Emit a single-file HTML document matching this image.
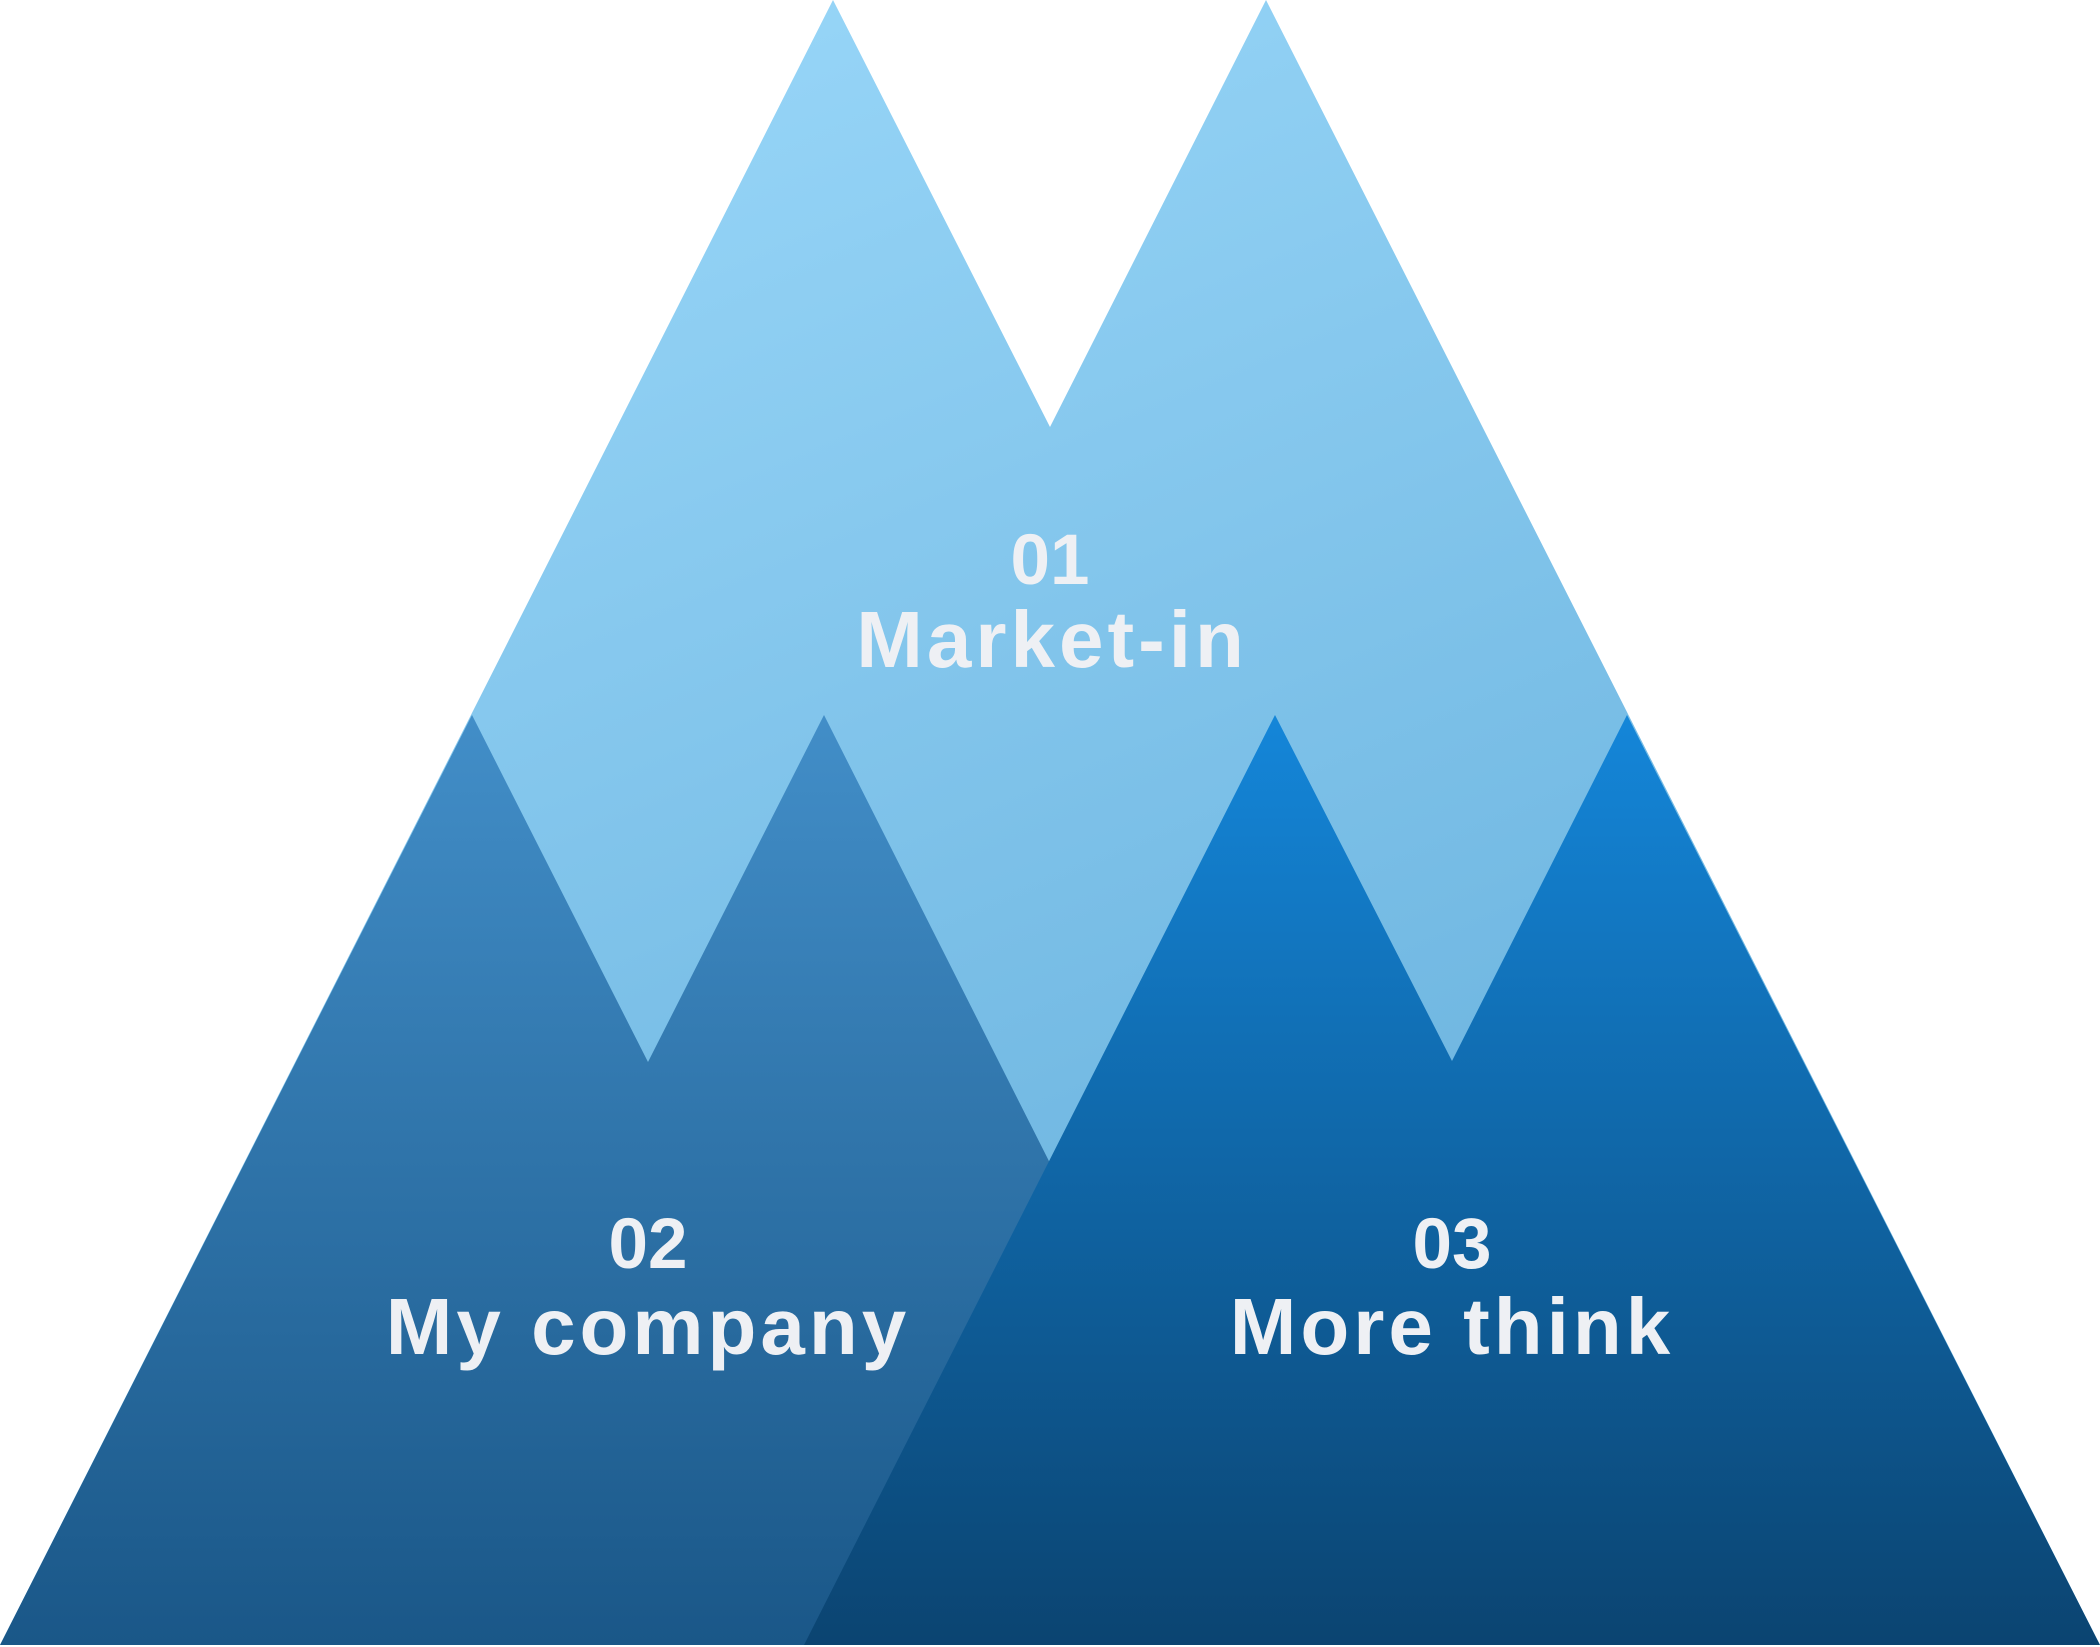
<!DOCTYPE html>
<html><head><meta charset="utf-8"><style>
html,body{margin:0;padding:0;background:#fff;}
svg{display:block;}
text{font-family:"Liberation Sans",sans-serif;font-weight:bold;fill:#eef0f4;text-anchor:middle;}
</style></head><body>
<svg width="2100" height="1647" viewBox="0 0 2100 1647" xmlns="http://www.w3.org/2000/svg">
<defs>
<linearGradient id="gl" x1="0.3" y1="0" x2="0.7" y2="0.75">
<stop offset="0" stop-color="#98d6f8"/><stop offset="1" stop-color="#6cb4df"/></linearGradient>
<linearGradient id="gd" x1="0" y1="0" x2="0" y2="1">
<stop offset="0" stop-color="#428ec8"/><stop offset="1" stop-color="#1a5788"/></linearGradient>
<linearGradient id="gb" x1="0" y1="0" x2="0" y2="1">
<stop offset="0" stop-color="#1486d9"/><stop offset="1" stop-color="#0b4471"/></linearGradient>
</defs>
<polygon fill="url(#gl)" points="833,0 1050,427 1266,0 2100,1645 0,1645"/>
<polygon fill="url(#gd)" points="0,1645 472,715 648,1062 824,715 1293,1645"/>
<polygon fill="url(#gb)" points="804,1645 1275,715 1452,1061 1627,715 2100,1645"/>
<text x="1050" y="584" font-size="71">01</text>
<text x="1052" y="667" font-size="80" letter-spacing="4">Market-in</text>
<text x="648" y="1268" font-size="71">02</text>
<text x="648" y="1354" font-size="80" letter-spacing="4">My company</text>
<text x="1452" y="1268" font-size="71">03</text>
<text x="1452" y="1354" font-size="80" letter-spacing="4">More think</text>
</svg>
</body></html>
